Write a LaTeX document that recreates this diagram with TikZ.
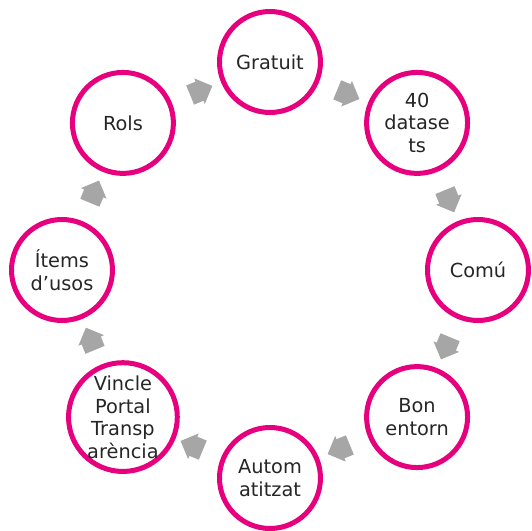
\documentclass[tikz,border=0pt]{standalone}
\usepackage{fontspec}
\setmainfont{DejaVu Sans}
\usetikzlibrary{shapes.arrows,calc}
\definecolor{ringpink}{HTML}{E6007E}
\definecolor{arrowgray}{HTML}{A6A6A6}
\definecolor{textgray}{HTML}{262626}

\begin{document}
\begin{tikzpicture}[
    x=0.02cm, y=0.02cm,
    ring/.style={circle, draw=ringpink, line width=0.1cm, fill=white, minimum size=2.02cm, inner sep=0pt, align=center, text=textgray, font=\fontsize{11}{12.8}\selectfont},
    cyclearrow/.style={single arrow, fill=arrowgray, draw=none, text width=0.2cm, text height=0.4cm, text depth=0pt, minimum height=0.48cm, single arrow head extend=0.07cm, inner sep=0pt}
]
\useasboundingbox (-270,-261) rectangle (262,270);

% Circles of the cycle
\node[ring] (gratuit) at (90:208) {Gratuit};
\node[ring] (datasets) at (45:208) {40\\datase\\ts};
\node[ring] (comu) at (0:208) {Comú};
\node[ring] (bonentorn) at (-45:208) {Bon\\entorn};
\node[ring] (autom) at (-90:208) {Autom\\atitzat};
\node[ring] (vincle) at (-135:208) {Vincle\\Portal\\Transp\\arència};
\node[ring] (items) at (180:208) {Ítems\\d’usos};
\node[ring] (rols) at (135:208) {Rols};

% Arrows between circles
\node[cyclearrow, rotate=-22.5] (arr1) at ($(gratuit)!0.5!(datasets)$) {};
\node[cyclearrow, rotate=-67.5] (arr2) at ($(datasets)!0.5!(comu)$) {};
\node[cyclearrow, rotate=-112.5] (arr3) at ($(comu)!0.5!(bonentorn)$) {};
\node[cyclearrow, rotate=-157.5] (arr4) at ($(bonentorn)!0.5!(autom)$) {};
\node[cyclearrow, rotate=157.5] (arr5) at ($(autom)!0.5!(vincle)$) {};
\node[cyclearrow, rotate=112.5] (arr6) at ($(vincle)!0.5!(items)$) {};
\node[cyclearrow, rotate=67.5] (arr7) at ($(items)!0.5!(rols)$) {};
\node[cyclearrow, rotate=22.5] (arr8) at ($(rols)!0.5!(gratuit)$) {};

\end{tikzpicture}
\end{document}
